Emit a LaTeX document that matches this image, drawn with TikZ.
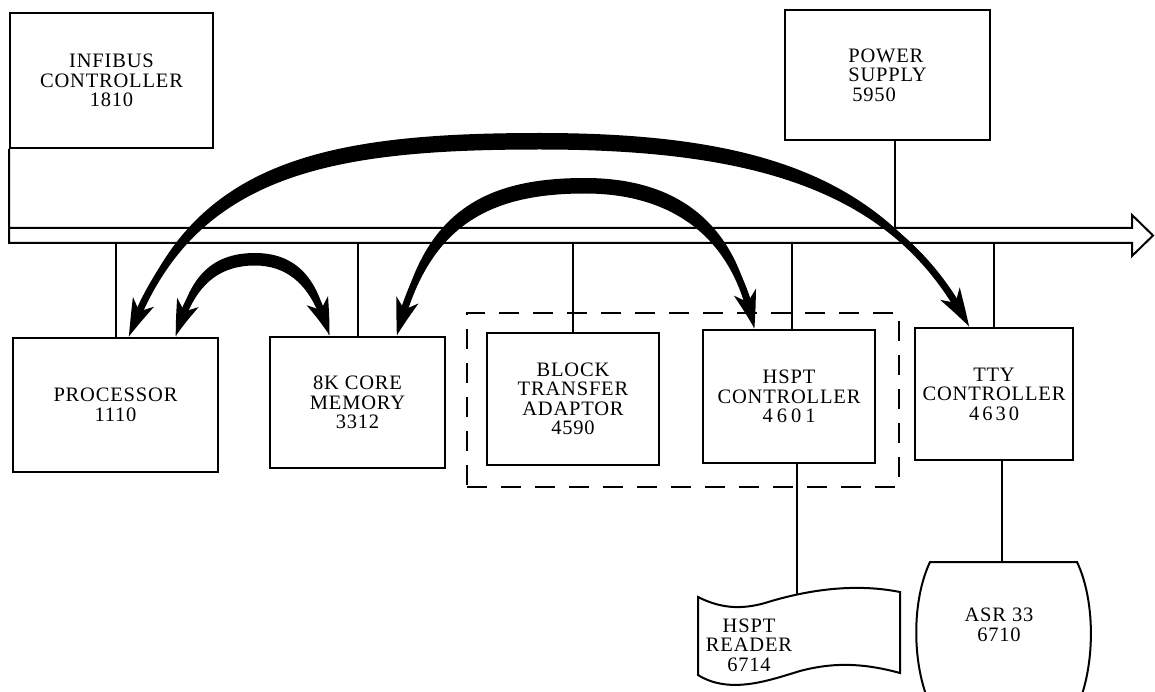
\documentclass[tikz,border=0pt]{standalone}
\usepackage{fontspec}
\setmainfont{Liberation Serif}
\usetikzlibrary{arrows.meta,bending,calc}
\newcommand\lblfont{\fontsize{20.5}{19.5}\selectfont\addfontfeature{LetterSpace=4}}
\begin{document}
\begin{tikzpicture}[x=1pt,y=-1pt,
  box/.style={draw,line width=2pt,inner sep=0pt,align=center,font=\lblfont},
  ln/.style={line width=2pt},
  dbox/.style={draw,line width=2pt,dash pattern=on 20pt off 14pt,inner sep=0pt},
  arr/.style={line width=7pt,arrows={Stealth[length=38pt,width=22pt,inset=10pt,bend]-Stealth[length=38pt,width=22pt,inset=10pt,bend]}},
  txt/.style={font=\lblfont,align=center,inner sep=0pt}]
\useasboundingbox (0,0) rectangle (1155,692);

% boxes
\node[box,minimum width=203pt,minimum height=135pt] (infibus) at (111.5,80.5) {INFIBUS\\CONTROLLER\\1810};
\node[box,minimum width=205pt,minimum height=130pt,align=left] (power) at (887.5,75) {POWER\\SUPPLY\\\hspace{4pt}5950};
\node[box,minimum width=205pt,minimum height=134pt] (proc) at (115.5,405) {PROCESSOR\\1110};
\node[box,minimum width=175pt,minimum height=131pt] (mem) at (357.5,402.5) {8K CORE\\MEMORY\\3312};
\node[box,minimum width=172pt,minimum height=132pt] (bta) at (573,399) {BLOCK\\TRANSFER\\ADAPTOR\\4590};
\node[box,minimum width=172pt,minimum height=133pt] (hsptc) at (789,396.5) {HSPT\\CONTROLLER\\4\hspace{4pt}6\hspace{4pt}0\hspace{4pt}1};
\node[box,minimum width=158pt,minimum height=132pt] (tty) at (994,394) {TTY\\CONTROLLER\\4\hspace{3pt}6\hspace{3pt}3\hspace{3pt}0};
\node[dbox,minimum width=432pt,minimum height=174pt] (grp) at (683,400) {};

% bus
\coordinate (bt) at (0,228);
\coordinate (bb) at (0,243);
\coordinate (tip) at (1153,235.5);
\draw[ln,line join=miter] (infibus.south west) -- (infibus.south west |- bb) -- (1132,243) -- (1132,256) -- (tip) -- (1132,215) -- (1132,228) -- (infibus.south west |- bt);

% HSPT reader
\node[txt] (reader) at (749,645) {HSPT\\READER\\6714};
\draw[ln] (698,597) .. controls (720,608) and (740,610) .. (765,603) .. controls (800,592) and (850,582) .. (900,592) -- (900,673) .. controls (860,662) and (830,663) .. (800,671) .. controls (770,680) and (730,695) .. (698,675) -- cycle;
\coordinate (rdrtop) at (797,594.5);

% ASR 33
\node[txt] (asr) at (999,625) {ASR 33\\6710};
\draw[ln] (930,562) -- (1077,562) .. controls (1095,600) and (1095,660) .. (1080,700) -- (928,700) .. controls (912,660) and (912,600) .. (930,562) -- cycle;
\coordinate (asrtop) at (1002,562);

% stubs
\draw[ln] (proc.north) -- (proc.north |- bb);
\draw[ln] (mem.north) -- (mem.north |- bb);
\draw[ln] (bta.north) -- (bta.north |- bb);
\draw[ln] ([xshift=3pt]hsptc.north) -- ([xshift=3pt]hsptc.north |- bb);
\draw[ln] (tty.north) -- (tty.north |- bb);
\draw[ln] ([xshift=7.5pt]power.south) -- ([xshift=7.5pt]power.south |- bt);
\draw[ln] (hsptc.south -| rdrtop) -- (rdrtop);
\draw[ln] (tty.south -| asrtop) -- (asrtop);

% big arc processor <-> tty
\coordinate (a1) at ([xshift=117pt]proc.north west);
\coordinate (b1) at ([xshift=55pt]tty.north west);
\coordinate (p1) at (540,146);
\coordinate (q1) at (540,133);
\fill (a1) .. controls +(55,-175) and +(-220,0) .. (q1) .. controls +(230,0) and +(-75,-145) .. (b1) .. controls +(-70,-138) and +(220,0) .. (p1) .. controls +(-210,0) and +(60,-167) .. (a1) -- cycle;
\draw[arr] (a1) .. controls +(60,-167) and +(-210,0) .. (p1) .. controls +(220,0) and +(-70,-138) .. (b1);

% small arc processor <-> memory
\coordinate (a2) at ([xshift=164pt]proc.north west);
\coordinate (b2) at ([xshift=60pt]mem.north west);
\coordinate (p2) at (255,262);
\coordinate (q2) at (255,253);
\fill (a2) .. controls +(10,-58) and +(-45,0) .. (q2) .. controls +(45,0) and +(-7,-52) .. (b2) .. controls +(-10,-45) and +(40,0) .. (p2) .. controls +(-40,0) and +(13,-52) .. (a2) -- cycle;
\draw[arr] (a2) .. controls +(13,-52) and +(-40,0) .. (p2) .. controls +(40,0) and +(-10,-45) .. (b2);

% medium arc memory <-> hspt controller
\coordinate (a3) at ([xshift=128pt]mem.north west);
\coordinate (b3) at ([xshift=52pt]hsptc.north west);
\coordinate (p3) at (585,190);
\coordinate (q3) at (585,178);
\fill (a3) .. controls +(22,-125) and +(-100,0) .. (q3) .. controls +(100,0) and +(-12,-98) .. (b3) .. controls +(-15,-88) and +(95,0) .. (p3) .. controls +(-95,0) and +(27,-115) .. (a3) -- cycle;
\draw[arr] (a3) .. controls +(27,-115) and +(-95,0) .. (p3) .. controls +(95,0) and +(-15,-88) .. (b3);
\end{tikzpicture}
\end{document}
